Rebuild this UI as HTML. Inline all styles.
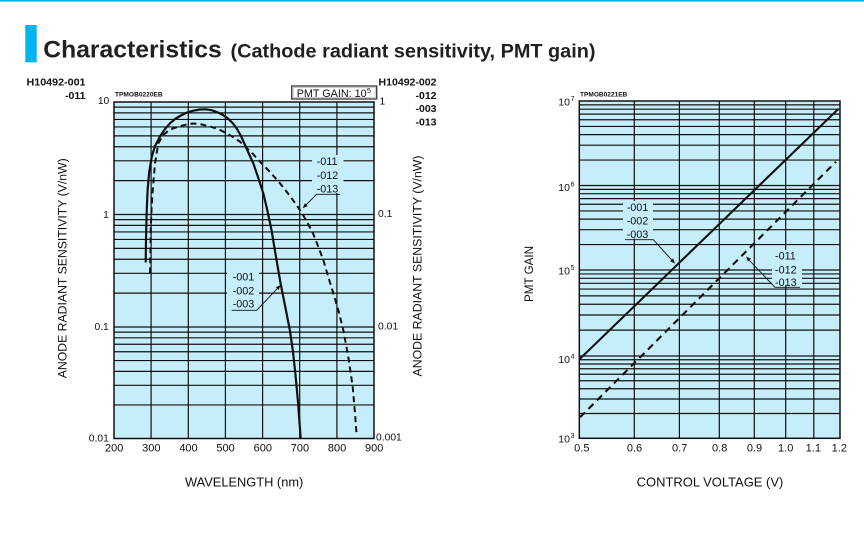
<!DOCTYPE html>
<html><head><meta charset="utf-8"><style>
html,body{margin:0;padding:0;background:#fff;}
svg{display:block;font-family:"Liberation Sans",Arial,sans-serif;}
</style></head><body>
<svg width="864" height="534" viewBox="0 0 864 534" xmlns="http://www.w3.org/2000/svg">
<rect x="0" y="0" width="864" height="534" fill="#fff"/>
<rect x="0" y="0" width="864" height="1.6" fill="#00aeef"/>
<!-- header -->
<rect x="25.3" y="25" width="11.4" height="37.3" fill="#00b4ef"/>
<text x="43.3" y="57.3" font-size="24.5" font-weight="bold" fill="#231f20" textLength="178.4" lengthAdjust="spacingAndGlyphs">Characteristics</text>
<text x="230.5" y="57.3" font-size="19.8" font-weight="bold" fill="#231f20" textLength="365" lengthAdjust="spacingAndGlyphs">(Cathode radiant sensitivity, PMT gain)</text>

<!-- ============ LEFT CHART ============ -->
<rect x="114" y="102" width="260" height="336.5" fill="#c6eefa"/>
<g stroke="#111" stroke-width="1.2" fill="none">
<path d="M114 107.15H374M114 112.9H374M114 119.43H374M114 126.96H374M114 135.87H374M114 146.77H374M114 160.82H374M114 180.63H374M114 214.5H374
M114 219.65H374M114 225.4H374M114 231.93H374M114 239.46H374M114 248.37H374M114 259.27H374M114 273.32H374M114 293.13H374M114 327H374
M114 332.1H374M114 337.81H374M114 344.27H374M114 351.74H374M114 360.56H374M114 371.37H374M114 385.3H374M114 404.94H374"/>
<path d="M151.1 102V438.5M188.3 102V438.5M225.4 102V438.5M262.6 102V438.5M299.7 102V438.5M336.9 102V438.5"/>
</g>
<!-- legend backgrounds -->
<rect x="312" y="155" width="31.5" height="38" fill="#c6eefa"/>
<rect x="227" y="270.5" width="32" height="38.5" fill="#c6eefa"/>
<!-- curves -->
<path fill="none" stroke="#111" stroke-width="2.2" stroke-linejoin="round" d="M145.7 262.5L146 240L146.6 214L147.6 190L149.2 172L151.7 157L155 146L160 136.5L165 129L170 123.3L175 119L180 116L187 112.5L193.3 110.7L200 109.5L206 109.3L212 110.3L218 112.5L223 115L228 118.5L233 123.5L237 129L241 136L245 145L249 154L253.3 163.3L258 177L263.3 193.3L267.5 211L271.5 230L276 257L280.7 284L285.5 308L290 331L293 352L295.5 375L298 402L300.7 438.5"/>
<path fill="none" stroke="#111" stroke-width="2" stroke-dasharray="6 4" d="M150 273.3L150.5 250L150.7 230L151.5 210L152.7 190L155 163.3L158.3 143.3L163.3 135L168 131L173.3 128.3L180 126.2L186.7 124.5L193 123.5L200 124L210 126.5L218 129L226.7 133.3L233 137L240 141.7L245 146.5L252 153L260 161.7L270 172L280 183.3L290 196L300 210L306 220L313 233.3L318 246L323.3 260L328 276L333.3 293.3L338.3 310L343.3 330L348.3 356.7L352.7 386.7L355 413.3L356.7 436"/>
<rect x="114" y="102" width="260" height="336.5" fill="none" stroke="#111" stroke-width="1.5"/>
<!-- legend labels -->
<g font-size="10.8" fill="#111">
<text x="316.7" y="165">-011</text>
<text x="316.7" y="179">-012</text>
<text x="316.7" y="192.7">-013</text>
<text x="232.7" y="280.7">-001</text>
<text x="232.7" y="294.7">-002</text>
<text x="232.7" y="307.7">-003</text>
</g>
<g stroke="#111" stroke-width="0.9" fill="none">
<path d="M340 194.3H316.5L304.5 206.5"/>
<path d="M231.7 310.3H256.7L278.5 287.3"/>
</g>
<polygon points="302.7,208.3 307.6,206.1 304.8,203.3" fill="#111"/>
<polygon points="280.7,285 278.7,290 275.8,287.2" fill="#111"/>

<!-- left chart labels -->
<g fill="#111">
<text x="26.5" y="85.7" font-size="10.5" font-weight="bold" textLength="59" lengthAdjust="spacingAndGlyphs">H10492-001</text>
<text x="85.5" y="99" font-size="10.5" font-weight="bold" text-anchor="end">-011</text>
<text x="378.5" y="85.3" font-size="10.5" font-weight="bold" textLength="58" lengthAdjust="spacingAndGlyphs">H10492-002</text>
<text x="436.5" y="99" font-size="10.5" font-weight="bold" text-anchor="end">-012</text>
<text x="436.5" y="112" font-size="10.5" font-weight="bold" text-anchor="end">-003</text>
<text x="436.5" y="125.5" font-size="10.5" font-weight="bold" text-anchor="end">-013</text>
<text x="115" y="96.3" font-size="6" font-weight="bold" textLength="47.7" lengthAdjust="spacingAndGlyphs">TPMOB0220EB</text>
</g>
<rect x="291.7" y="86" width="85" height="13" fill="#fff" stroke="#444" stroke-width="1.4"/>
<rect x="293.2" y="87.5" width="82" height="10" fill="none" stroke="#aaa" stroke-width="0.6"/>
<text x="296.7" y="96.8" font-size="11" fill="#111" textLength="70" lengthAdjust="spacingAndGlyphs">PMT GAIN: 10</text>
<text x="367" y="93.2" font-size="7" fill="#111">5</text>

<g font-size="10.3" fill="#111" text-anchor="end">
<text x="109.3" y="104">10</text>
<text x="108.8" y="217.8">1</text>
<text x="108.8" y="329.8">0.1</text>
<text x="108.8" y="441.7">0.01</text>
</g>
<g font-size="10.3" fill="#111">
<text x="379.5" y="104.3">1</text>
<text x="378" y="217">0.1</text>
<text x="378" y="329.5">0.01</text>
<text x="376" y="440.7">0.001</text>
</g>
<g font-size="11" fill="#111" text-anchor="middle">
<text x="114.2" y="451.5">200</text>
<text x="151.3" y="451.5">300</text>
<text x="188.5" y="451.5">400</text>
<text x="225.6" y="451.5">500</text>
<text x="262.8" y="451.5">600</text>
<text x="299.9" y="451.5">700</text>
<text x="337.1" y="451.5">800</text>
<text x="374.2" y="451.5">900</text>
</g>
<text x="185" y="486.7" font-size="12.6" fill="#111" textLength="118.3" lengthAdjust="spacingAndGlyphs">WAVELENGTH (nm)</text>
<text transform="translate(66.3,268.3) rotate(-90)" text-anchor="middle" font-size="12.2" fill="#111" textLength="220" lengthAdjust="spacingAndGlyphs">ANODE RADIANT SENSITIVITY (V/nW)</text>
<text transform="translate(421.7,266) rotate(-90)" text-anchor="middle" font-size="12.2" fill="#111" textLength="221" lengthAdjust="spacingAndGlyphs">ANODE RADIANT SENSITIVITY (V/nW)</text>

<!-- ============ RIGHT CHART ============ -->
<rect x="579.3" y="101" width="260.7" height="337.3" fill="#c6eefa"/>
<g stroke="#111" stroke-width="1.2" fill="none">
<path d="M579.3 104.87H840M579.3 109.19H840M579.3 114.09H840M579.3 119.75H840M579.3 126.44H840M579.3 134.63H840M579.3 145.18H840M579.3 160.06H840M579.3 185.5H840
M579.3 189.37H840M579.3 193.69H840M579.3 198.59H840M579.3 204.25H840M579.3 210.94H840M579.3 219.13H840M579.3 229.68H840M579.3 244.56H840M579.3 270H840
M579.3 273.94H840M579.3 278.33H840M579.3 283.32H840M579.3 289.08H840M579.3 295.89H840M579.3 304.22H840M579.3 314.97H840M579.3 330.11H840M579.3 356H840
M579.3 359.77H840M579.3 363.98H840M579.3 368.75H840M579.3 374.26H840M579.3 380.77H840M579.3 388.75H840M579.3 399.03H840M579.3 413.53H840"/>
<path d="M634.3 101V438.3M679.4 101V438.3M719.3 101V438.3M754.3 101V438.3M785.7 101V438.3M813.8 101V438.3"/>
</g>
<rect x="623" y="201" width="30" height="37.5" fill="#c6eefa"/>
<rect x="772" y="250" width="30" height="35.5" fill="#c6eefa"/>
<path d="M579.5 359.2L838.3 109" fill="none" stroke="#111" stroke-width="2.1"/>
<path d="M580 417.3L836 161.7" fill="none" stroke="#111" stroke-width="2.1" stroke-dasharray="7 5"/>
<rect x="579.3" y="101" width="260.7" height="337.3" fill="none" stroke="#111" stroke-width="1.5"/>
<g font-size="10.8" fill="#111">
<text x="626.7" y="211">-001</text>
<text x="626.7" y="224.3">-002</text>
<text x="626.7" y="238">-003</text>
<text x="775" y="259.5">-011</text>
<text x="775" y="273.3">-012</text>
<text x="775" y="286">-013</text>
</g>
<g stroke="#111" stroke-width="0.9" fill="none">
<path d="M625 239.7H653.3L672.5 260.8"/>
<path d="M800 287.3H775L748.5 259.5"/>
</g>
<polygon points="675,263.5 673.1,258.4 670.1,261.2" fill="#111"/>
<polygon points="746,256.5 750.9,258.7 748,261.5" fill="#111"/>

<text x="580" y="96.7" font-size="6" font-weight="bold" fill="#111" textLength="47.3" lengthAdjust="spacingAndGlyphs">TPMOB0221EB</text>
<g font-size="10.5" fill="#111">
<text x="558.3" y="105.7">10</text><text x="570.6" y="101.2" font-size="7">7</text>
<text x="558.3" y="191">10</text><text x="570.6" y="186.5" font-size="7">6</text>
<text x="558.3" y="274.3">10</text><text x="570.6" y="269.8" font-size="7">5</text>
<text x="558.3" y="363">10</text><text x="570.6" y="358.5" font-size="7">4</text>
<text x="558.3" y="442.3">10</text><text x="570.6" y="437.8" font-size="7">3</text>
</g>
<g font-size="11" fill="#111" text-anchor="middle">
<text x="581.8" y="451.7">0.5</text>
<text x="634.5" y="451.7">0.6</text>
<text x="679.7" y="451.7">0.7</text>
<text x="719.7" y="451.7">0.8</text>
<text x="754.5" y="451.7">0.9</text>
<text x="785.7" y="451.7">1.0</text>
<text x="813.3" y="451.7">1.1</text>
<text x="839.3" y="451.7">1.2</text>
</g>
<text x="636.7" y="486.7" font-size="12.6" fill="#111" textLength="146.6" lengthAdjust="spacingAndGlyphs">CONTROL VOLTAGE (V)</text>
<text transform="translate(533,274) rotate(-90)" text-anchor="middle" font-size="12.4" fill="#111" textLength="56" lengthAdjust="spacingAndGlyphs">PMT GAIN</text>
</svg>
</body></html>
